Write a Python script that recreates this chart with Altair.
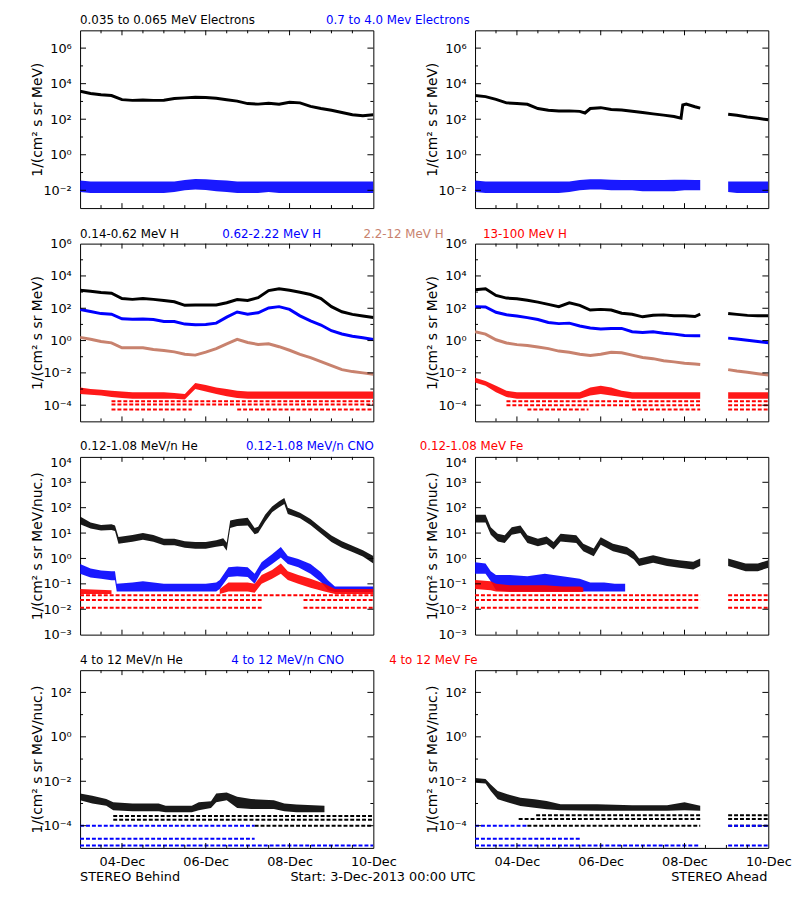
import altair as alt
import pandas as pd

W, H = 297, 180
BLACK, BLUE, TAN, RED = "#000000", "#0000ff", "#c8826e", "#ff0000"
FONT = "DejaVu Sans"
G = None  # data gap marker

# ---------------- time axis (hours since 3-Dec-2013 00:00) ----------------
XT_H = [24, 72, 120, 168]
XT_LABELS = ["04-Dec", "06-Dec", "08-Dec", "10-Dec"]
X_MINOR = [12, 36, 48, 60, 84, 96, 108, 132, 144, 156]

H6 = [0, 6, 12, 18, 24, 30, 36, 42, 48, 54, 60, 66, 72, 78, 84, 90, 96, 102, 108, 114,
      120, 126, 132, 138, 144, 150, 156, 162, 168]
H6A = [0, 6, 12, 18, 24, 30, 36, 42, 48, 54, 60, 66, 72, 78, 84, 90, 96, 102, 108, 114,
       120, 126, 129, G, 145, 150, 156, 162, 168]

# ---------------- row 1: electrons (log10 values) ----------------
E_LO_B = [3.58, 3.45, 3.38, 3.33, 3.1, 3.06, 3.08, 3.06, 3.07, 3.16, 3.2, 3.24, 3.22, 3.18, 3.1,
          3.02, 2.88, 2.85, 2.9, 2.84, 2.95, 2.92, 2.72, 2.6, 2.5, 2.38, 2.25, 2.2, 2.25]
E_HI_B_TOP = [-1.45, -1.5, -1.5, -1.5, -1.5, -1.5, -1.5, -1.5, -1.5, -1.5, -1.42, -1.36, -1.38, -1.42,
              -1.45, -1.5, -1.5, -1.5, -1.5, -1.5, -1.5, -1.5, -1.5, -1.5, -1.5, -1.5, -1.5, -1.5, -1.5]
E_HI_B_BOT = [-2.1, -2.15, -2.15, -2.15, -2.15, -2.15, -2.15, -2.15, -2.15, -2.1, -2.0, -1.95, -1.98,
              -2.05, -2.1, -2.15, -2.15, -2.15, -2.1, -2.15, -2.15, -2.15, -2.15, -2.15, -2.15, -2.15,
              -2.15, -2.15, -2.15]
E_LO_A_H = [0, 6, 12, 18, 24, 30, 36, 42, 48, 54, 60, 63, 66, 72, 78, 84, 90, 96, 102, 108, 114, 118,
            119, 121, 126, 129, G, 145, 150, 156, 162, 168]
E_LO_A = [3.34, 3.27, 3.12, 2.92, 2.88, 2.84, 2.6, 2.5, 2.46, 2.47, 2.44, 2.35, 2.6, 2.65, 2.55, 2.52,
          2.45, 2.38, 2.3, 2.23, 2.15, 2.06, 2.8, 2.85, 2.7, 2.62, G, 2.28, 2.22, 2.12, 2.05, 1.97]
E_HI_A_TOP = [-1.45, -1.5, -1.5, -1.5, -1.5, -1.5, -1.5, -1.5, -1.5, -1.5, -1.42, -1.38, -1.38, -1.4,
              -1.42, -1.42, -1.42, -1.42, -1.42, -1.4, -1.4, -1.42, -1.42, G, -1.5, -1.5, -1.5, -1.5, -1.5]
E_HI_A_BOT = [-2.1, -2.15, -2.15, -2.15, -2.15, -2.15, -2.15, -2.15, -2.15, -2.1, -2.0, -1.95, -1.95,
              -2.0, -2.0, -2.0, -2.05, -2.05, -2.05, -2.05, -2.0, -2.0, -2.0, G, -2.1, -2.15, -2.15,
              -2.15, -2.15]

# ---------------- row 2: protons ----------------
P1_B = [3.11, 3.05, 2.98, 2.93, 2.6, 2.55, 2.6, 2.55, 2.48, 2.4, 2.18, 2.2, 2.2, 2.2, 2.34, 2.54,
        2.48, 2.65, 3.09, 3.2, 3.11, 2.99, 2.85, 2.6, 2.1, 1.78, 1.62, 1.52, 1.43]
P2_B = [1.93, 1.8, 1.67, 1.63, 1.35, 1.32, 1.33, 1.3, 1.18, 1.18, 1.02, 0.98, 1.0, 1.08, 1.45, 1.77,
        1.63, 1.72, 2.02, 2.1, 1.93, 1.53, 1.22, 0.96, 0.61, 0.41, 0.27, 0.17, 0.07]
P3_B = [0.2, 0.08, -0.06, -0.14, -0.45, -0.45, -0.45, -0.55, -0.62, -0.7, -0.85, -0.9, -0.72, -0.5,
        -0.2, 0.07, -0.12, -0.24, -0.2, -0.38, -0.6, -0.85, -1.05, -1.3, -1.55, -1.8, -1.92, -2.0, -2.08]
P4_B_TOP = [-2.9, -3.0, -3.05, -3.1, -3.15, -3.2, -3.2, -3.2, -3.2, -3.25, -3.3, -2.62, -2.75, -2.9,
            -3.0, -3.1, -3.15, -3.15, -3.15, -3.15, -3.15, -3.15, -3.15, -3.15, -3.15, -3.15, -3.15,
            -3.15, -3.15]
P4_B_BOT = [-3.3, -3.35, -3.4, -3.5, -3.55, -3.6, -3.6, -3.6, -3.6, -3.6, -3.65, -3.0, -3.15, -3.3,
            -3.45, -3.55, -3.6, -3.6, -3.6, -3.6, -3.6, -3.6, -3.6, -3.6, -3.6, -3.6, -3.6, -3.6, -3.6]
P_LEV_B_Y = [-3.76, -3.96, -4.26, -4.26]
P_LEV_B_H0 = [18, 18, 18, 90]
P_LEV_B_H1 = [168, 168, 64, 168]

P1_A = [3.15, 3.2, 2.79, 2.63, 2.59, 2.5, 2.38, 2.24, 2.1, 2.34, 2.18, 1.89, 1.93, 1.89, 1.69, 1.63,
        1.47, 1.57, 1.59, 1.53, 1.53, 1.49, 1.63, G, 1.68, 1.62, 1.56, 1.53, 1.53]
P2_A = [2.1, 2.08, 1.75, 1.6, 1.52, 1.42, 1.3, 1.12, 1.05, 1.08, 0.9, 0.78, 0.72, 0.75, 0.75, 0.55,
        0.5, 0.55, 0.45, 0.4, 0.32, 0.3, 0.3, G, 0.15, 0.1, 0.02, -0.06, -0.14]
P3_A = [0.55, 0.4, 0.05, -0.15, -0.25, -0.3, -0.4, -0.5, -0.65, -0.72, -0.85, -0.92, -0.85, -0.72,
        -0.75, -0.9, -1.05, -1.12, -1.25, -1.32, -1.4, -1.45, -1.48, G, -1.8, -1.88, -1.96, -2.05, -2.13]
P4_A_TOP = [-2.3, -2.5, -2.8, -3.1, -3.2, -3.2, -3.2, -3.2, -3.2, -3.2, -3.2, -2.9, -2.8, -2.9, -3.1,
            -3.2, -3.2, -3.2, -3.2, -3.2, -3.2, -3.2, -3.2, G, -3.2, -3.2, -3.2, -3.2, -3.2]
P4_A_BOT = [-2.6, -2.8, -3.2, -3.5, -3.6, -3.6, -3.6, -3.6, -3.6, -3.6, -3.6, -3.4, -3.3, -3.4, -3.5,
            -3.6, -3.6, -3.6, -3.6, -3.6, -3.6, -3.6, -3.6, G, -3.6, -3.6, -3.6, -3.6, -3.6]
P_LEV_A_Y = [-3.76, -3.76, -4.0, -4.0, -4.26, -4.26, -4.26]
P_LEV_A_H0 = [18, 145, 18, 145, 30, 90, 145]
P_LEV_A_H1 = [129, 168, 129, 168, 65, 129, 168]

# ---------------- row 3: 0.12-1.08 MeV/n heavy ions ----------------
HE_B_H = [0, 6, 12, 18, 20, 22, 30, 36, 42, 48, 54, 60, 66, 72, 78, 82, 84, 86, 90, 96, 100, 102,
          106, 110, 114, 117, 119, 126, 132, 138, 144, 150, 156, 162, 168]
HE_B_TOP = [1.65, 1.42, 1.32, 1.35, 1.3, 0.85, 0.92, 1.0, 0.92, 0.78, 0.78, 0.68, 0.65, 0.65, 0.72,
            0.8, 0.62, 1.5, 1.55, 1.6, 1.2, 1.25, 1.72, 2.05, 2.25, 2.38, 2.0, 1.8, 1.55, 1.22, 0.9,
            0.68, 0.5, 0.32, 0.1]
HE_B_BOT = [1.35, 1.18, 1.1, 1.12, 1.08, 0.58, 0.66, 0.74, 0.66, 0.52, 0.52, 0.42, 0.38, 0.38, 0.46,
            0.5, 0.3, 1.2, 1.28, 1.3, 0.95, 1.0, 1.45, 1.82, 2.02, 2.15, 1.75, 1.58, 1.32, 0.98, 0.65,
            0.42, 0.25, 0.08, -0.2]
CNO_B_H = [0, 6, 12, 18, 20, 21, 30, 36, 42, 48, 54, 60, 66, 72, 78, 80, 85, 90, 96, 100, 104, 110,
           115, 119, 125, 132, 138, 142, 146, 150, 156, 162, 168]
CNO_B_TOP = [-0.22, -0.4, -0.47, -0.5, -0.5, -1.0, -0.95, -0.9, -0.95, -1.0, -1.0, -1.0, -1.0, -1.0,
             -0.95, -0.85, -0.35, -0.32, -0.35, -0.6, -0.15, 0.17, 0.45, 0.1, -0.02, -0.22, -0.54,
             -0.86, -1.1, -1.1, -1.1, -1.1, -1.1]
CNO_B_BOT = [-0.6, -0.75, -0.8, -0.86, -0.86, -1.3, -1.3, -1.3, -1.3, -1.3, -1.3, -1.3, -1.3, -1.3,
             -1.3, -1.2, -0.73, -0.7, -0.73, -1.0, -0.5, -0.22, 0.04, -0.22, -0.35, -0.6, -0.93,
             -1.25, -1.32, -1.32, -1.32, -1.32, -1.32]
FE_B_H = [0, 18, G, 80, 85, 96, 100, 104, 110, 115, 119, 125, 132, 140, 146, 168]
FE_B_TOP = [-1.2, -1.25, G, -1.2, -0.95, -0.95, -1.0, -0.65, -0.45, -0.2, -0.5, -0.65, -0.8, -1.0,
            -1.2, -1.2]
FE_B_BOT = [-1.4, -1.4, G, -1.4, -1.3, -1.3, -1.35, -1.0, -0.8, -0.6, -0.85, -1.0, -1.15, -1.3,
            -1.4, -1.4]
I_LEV_B_Y = [-1.45, -1.64, -1.64, -1.94, -1.94]
I_LEV_B_H0 = [0, 0, 128, 0, 128]
I_LEV_B_H1 = [168, 104, 168, 104, 168]

HE_A_H = [0, 6, 9, 13, 17, 21, 26, 30, 36, 41, 45, 49, 58, 62, 68, 72, 79, 87, 91, 94, 102, 110,
          117, 125, 129, G, 145, 155, 162, 168]
HE_A_TOP = [1.72, 1.72, 1.23, 0.97, 0.91, 1.23, 1.3, 0.91, 0.78, 0.87, 0.65, 0.97, 0.91, 0.58, 0.39,
            0.84, 0.58, 0.45, 0.26, 0.0, 0.13, 0.0, -0.07, -0.13, 0.0, G, 0.0, -0.2, -0.2, -0.07]
HE_A_BOT = [1.42, 1.42, 0.93, 0.67, 0.61, 0.93, 1.0, 0.61, 0.48, 0.57, 0.35, 0.67, 0.61, 0.28, 0.09,
            0.54, 0.28, 0.15, -0.04, -0.3, -0.17, -0.3, -0.37, -0.43, -0.3, G, -0.3, -0.5, -0.5, -0.37]
CNO_A_H = [0, 6, 9, 12, 20, 30, 40, 50, 60, 66, 74, 80, 86]
CNO_A_TOP = [-0.15, -0.2, -0.5, -0.65, -0.65, -0.7, -0.6, -0.7, -0.8, -0.95, -0.95, -1.0, -1.0]
CNO_A_BOT = [-0.6, -0.6, -0.9, -1.25, -1.3, -1.3, -1.3, -1.3, -1.3, -1.3, -1.3, -1.3, -1.3]
FE_A_H = [0, 9, 12, 20, 30, 40, 50, 60, 62]
FE_A_TOP = [-0.85, -0.9, -1.0, -1.05, -1.05, -1.05, -1.1, -1.1, -1.15]
FE_A_BOT = [-1.2, -1.25, -1.3, -1.32, -1.32, -1.32, -1.32, -1.32, -1.32]
I_LEV_A_Y = [-1.45, -1.45, -1.64, -1.64, -1.94, -1.94]
I_LEV_A_H0 = [0, 145, 0, 145, 0, 145]
I_LEV_A_H1 = [129, 168, 129, 168, 129, 168]

# ---------------- row 4: 4-12 MeV/n ----------------
HE4_B_H = [0, 7, 15, 19, 30, 45, 49, 64, 68, 75, 78, 84, 90, 98, 111, 117, 124, 140]
HE4_B_TOP = [-2.55, -2.65, -2.8, -2.95, -3.0, -3.0, -3.1, -3.1, -2.95, -2.9, -2.55, -2.5, -2.7, -2.8,
             -2.85, -3.0, -3.05, -3.1]
HE4_B_BOT = [-2.85, -3.0, -3.1, -3.3, -3.35, -3.35, -3.4, -3.4, -3.3, -3.2, -2.95, -2.85, -3.2, -3.25,
             -3.25, -3.35, -3.4, -3.4]
K_LEV_B_Y = [-3.56, -3.73, -4.0]
K_LEV_B_H0 = [19, 19, 100]
K_LEV_B_H1 = [168, 168, 168]
C_LEV_B_Y = [-4.0, -4.59, -4.89]
C_LEV_B_H0 = [0, 0, 0]
C_LEV_B_H1 = [100, 100, 168]

HE4_A_H = [0, 6, 9, 13, 19, 26, 34, 41, 49, 70, 90, 110, 120, 129]
HE4_A_TOP = [-1.85, -1.9, -2.15, -2.44, -2.59, -2.74, -2.81, -2.89, -3.04, -3.04, -3.08, -3.08, -2.95, -3.1]
HE4_A_BOT = [-2.07, -2.1, -2.44, -2.81, -2.96, -3.11, -3.19, -3.26, -3.3, -3.33, -3.33, -3.33, -3.3, -3.33]
K_LEV_A_Y = [-3.53, -3.7, -4.0, -3.53, -3.7, -4.0]
K_LEV_A_H0 = [35, 25, 30, 145, 145, 145]
K_LEV_A_H1 = [129, 129, 129, 168, 168, 168]
C_LEV_A_Y = [-4.0, -4.59, -4.89, -4.89, -4.0]
C_LEV_A_H0 = [0, 0, 0, 145, 145]
C_LEV_A_H1 = [30, 60, 129, 168, 168]

# ---------------- text ----------------
ROW_TITLES = [
    [("0.035 to 0.065 MeV Electrons", BLACK, 0), ("0.7 to 4.0 Mev Electrons", BLUE, 249)],
    [("0.14-0.62 MeV H", BLACK, 0), ("0.62-2.22 MeV H", BLUE, 144), ("2.2-12 MeV H", TAN, 287),
     ("13-100 MeV H", RED, 408)],
    [("0.12-1.08 MeV/n He", BLACK, 0), ("0.12-1.08 MeV/n CNO", BLUE, 168),
     ("0.12-1.08 MeV Fe", RED, 344)],
    [("4 to 12 MeV/n He", BLACK, 0), ("4 to 12 MeV/n CNO", BLUE, 153), ("4 to 12 MeV Fe", RED, 313)],
]
TITLE_DY = [-10, -10, -11, -10]
Y_TITLES = ["1/(cm\u00b2 s sr MeV)", "1/(cm\u00b2 s sr MeV)",
            "1/(cm\u00b2 s sr MeV/nuc.)", "1/(cm\u00b2 s sr MeV/nuc.)"]
Y_DOMAINS = [(-3, 7), (-5, 6), (-3, 4), (-5, 3)]
Y_LABELED = [[-2, 0, 2, 4, 6], [-4, -2, 0, 2, 4, 6], [-3, -2, -1, 0, 1, 2, 3, 4], [-4, -2, 0, 2]]
Y_MINOR = [[-1, 1, 3, 5], [-3, -1, 1, 3, 5], [], [-3, -1, 1]]
TOP_LABEL_SHIFT = [0, 0, 6, 0]   # row 3's top label sits a little below the frame
FOOT_LEFT = [("STEREO Behind", 0, "left"), ("Start:  3-Dec-2013 00:00 UTC", 213, "left")]
FOOT_RIGHT = [("STEREO Ahead", 296, "right")]

# ---------------- panel definitions ----------------
PANELS = [
    [  # row 1
        [("band", H6, E_HI_B_TOP, E_HI_B_BOT, BLUE), ("line", H6, E_LO_B, BLACK)],
        [("band", H6A, E_HI_A_TOP, E_HI_A_BOT, BLUE), ("line", E_LO_A_H, E_LO_A, BLACK)],
    ],
    [  # row 2
        [("level", P_LEV_B_Y, P_LEV_B_H0, P_LEV_B_H1, RED), ("line", H6, P1_B, BLACK),
         ("line", H6, P2_B, BLUE), ("line", H6, P3_B, TAN), ("band", H6, P4_B_TOP, P4_B_BOT, RED)],
        [("level", P_LEV_A_Y, P_LEV_A_H0, P_LEV_A_H1, RED), ("line", H6A, P1_A, BLACK),
         ("line", H6A, P2_A, BLUE), ("line", H6A, P3_A, TAN), ("band", H6A, P4_A_TOP, P4_A_BOT, RED)],
    ],
    [  # row 3
        [("level", I_LEV_B_Y, I_LEV_B_H0, I_LEV_B_H1, RED), ("band", HE_B_H, HE_B_TOP, HE_B_BOT, BLACK),
         ("band", CNO_B_H, CNO_B_TOP, CNO_B_BOT, BLUE), ("band", FE_B_H, FE_B_TOP, FE_B_BOT, RED)],
        [("level", I_LEV_A_Y, I_LEV_A_H0, I_LEV_A_H1, RED), ("band", HE_A_H, HE_A_TOP, HE_A_BOT, BLACK),
         ("band", CNO_A_H, CNO_A_TOP, CNO_A_BOT, BLUE), ("band", FE_A_H, FE_A_TOP, FE_A_BOT, RED)],
    ],
    [  # row 4
        [("level", K_LEV_B_Y, K_LEV_B_H0, K_LEV_B_H1, BLACK), ("level", C_LEV_B_Y, C_LEV_B_H0, C_LEV_B_H1, BLUE),
         ("band", HE4_B_H, HE4_B_TOP, HE4_B_BOT, BLACK)],
        [("level", K_LEV_A_Y, K_LEV_A_H0, K_LEV_A_H1, BLACK), ("level", C_LEV_A_Y, C_LEV_A_H0, C_LEV_A_H1, BLUE),
         ("band", HE4_A_H, HE4_A_TOP, HE4_A_BOT, BLACK)],
    ],
]


def seg_df(hours, v1, v2=None):
    rows, seg = [], 0
    for i, h in enumerate(hours):
        if h is None or v1[i] is None:
            seg += 1
            continue
        r = {"h": h, "v": 10.0 ** v1[i], "seg": seg}
        if v2 is not None:
            r["v2"] = 10.0 ** v2[i]
        rows.append(r)
    return pd.DataFrame(rows)


SUP = [("-", "\u207b"), ("0", "\u2070"), ("1", "\u00b9"), ("2", "\u00b2"), ("3", "\u00b3"),
       ("4", "\u2074"), ("5", "\u2075"), ("6", "\u2076"), ("7", "\u2077"), ("8", "\u2078"),
       ("9", "\u2079")]
expo = "('' + round(log(datum.value) / LN10))"
for a, b in SUP:
    expo = f"replace({expo}, '{a}', '{b}')"
Y_LABEL_EXPR = "'10' + " + expo
X_LABEL_EXPR = " : ".join(f"datum.value == {h} ? '{t}'" for h, t in zip(XT_H, XT_LABELS)) + " : ''"


def panel(row, side):
    lo, hi = Y_DOMAINS[row]
    yscale = alt.Scale(type="log", domain=[10.0 ** lo, 10.0 ** hi], nice=False)
    xscale = alt.Scale(domain=[0, 168], nice=False, zero=False)
    top_val = 10.0 ** hi
    label_offset = {"condition": {"test": f"datum.value >= {top_val * 0.5}",
                                  "value": TOP_LABEL_SHIFT[row]}, "value": 0}
    yaxis = alt.Axis(values=[10.0 ** e for e in Y_LABELED[row]], labelExpr=Y_LABEL_EXPR, ticks=False,
                     domain=False, grid=False, title=Y_TITLES[row], labelPadding=9, labelOverlap=False,
                     labelFlush=False, labelFontSize=13, titleFontSize=14, titleX=-43, titleY=H / 2,
                     titleAngle=270, titleAlign="center", titleBaseline="middle",
                     labelOffset=label_offset)
    if row == 3:
        xaxis = alt.Axis(values=XT_H, labelExpr=X_LABEL_EXPR, ticks=False, domain=False, grid=False,
                         title=None, labelPadding=8, labelFontSize=13, labelFlush=False,
                         labelOverlap=False)
    else:
        xaxis = alt.Axis(labels=False, ticks=False, domain=False, grid=False, title=None)
    X = lambda f="h": alt.X(f"{f}:Q", scale=xscale, axis=xaxis)
    Y = lambda f="v": alt.Y(f"{f}:Q", scale=yscale, axis=yaxis)

    layers = []
    for item in PANELS[row][side]:
        kind = item[0]
        if kind == "line":
            _, hs, vs, c = item
            layers.append(alt.Chart(seg_df(hs, vs)).mark_line(color=c, strokeWidth=3, clip=True)
                          .encode(x=X(), y=Y(), detail="seg:N"))
        elif kind == "band":
            _, hs, top, bot, c = item
            layers.append(alt.Chart(seg_df(hs, top, bot)).mark_area(color=c, opacity=0.9, clip=True)
                          .encode(x=X(), y=Y(), y2="v2:Q", detail="seg:N"))
        elif kind == "level":
            _, ys, h0, h1, c = item
            df = pd.DataFrame({"v": [10.0 ** y for y in ys], "h": h0, "h1": h1})
            layers.append(alt.Chart(df).mark_rule(color=c, strokeWidth=2, strokeDash=[4, 2], clip=True)
                          .encode(x=X(), x2="h1:Q", y=Y()))

    # inward tick marks
    ymaj = pd.DataFrame({"v": [10.0 ** e for e in Y_LABELED[row] if lo < e < hi]})
    ymin = pd.DataFrame({"v": [10.0 ** e for e in Y_MINOR[row]]})
    for df, ln in ((ymaj, 6), (ymin, 3)):
        if len(df):
            layers.append(alt.Chart(df).mark_rule(color="black").encode(
                y=Y(), x=alt.value(0), x2=alt.value(ln)))
            layers.append(alt.Chart(df).mark_rule(color="black").encode(
                y=Y(), x=alt.value(W), x2=alt.value(W - ln)))
    xmaj = pd.DataFrame({"h": XT_H[:-1]})
    xmin = pd.DataFrame({"h": X_MINOR})
    for df, ln in ((xmaj, 5), (xmin, 3)):
        layers.append(alt.Chart(df).mark_rule(color="black").encode(
            x=X(), y=alt.value(H), y2=alt.value(H - ln)))
        layers.append(alt.Chart(df).mark_rule(color="black").encode(
            x=X(), y=alt.value(0), y2=alt.value(ln)))

    # titles and footers
    if side == 0:
        for txt, c, xo in ROW_TITLES[row]:
            layers.append(alt.Chart(pd.DataFrame({"t": [txt]})).mark_text(
                align="left", baseline="middle", font=FONT, fontSize=12, color=c).encode(
                text="t:N", x=alt.value(xo), y=alt.value(TITLE_DY[row])))
    if row == 3:
        for txt, xo, al in (FOOT_LEFT if side == 0 else FOOT_RIGHT):
            layers.append(alt.Chart(pd.DataFrame({"t": [txt]})).mark_text(
                align=al, baseline="middle", font=FONT, fontSize=13, color="black").encode(
                text="t:N", x=alt.value(xo), y=alt.value(H + 30)))

    return alt.layer(*layers).properties(width=W, height=H)


panels = [panel(r, s) for r in range(4) for s in range(2)]
chart = (alt.concat(*panels, columns=2, spacing={"row": 36, "column": 103}, bounds="flush")
         .properties(padding={"left": 22, "top": 0, "right": 0, "bottom": 0}, background="white")
         .configure_view(stroke="black", strokeWidth=1)
         .configure_axis(labelFont=FONT, titleFont=FONT, labelColor="black", titleColor="black",
                         titleFontWeight="normal"))

chart.save("out.html", embed_options={"renderer": "svg", "actions": False})
